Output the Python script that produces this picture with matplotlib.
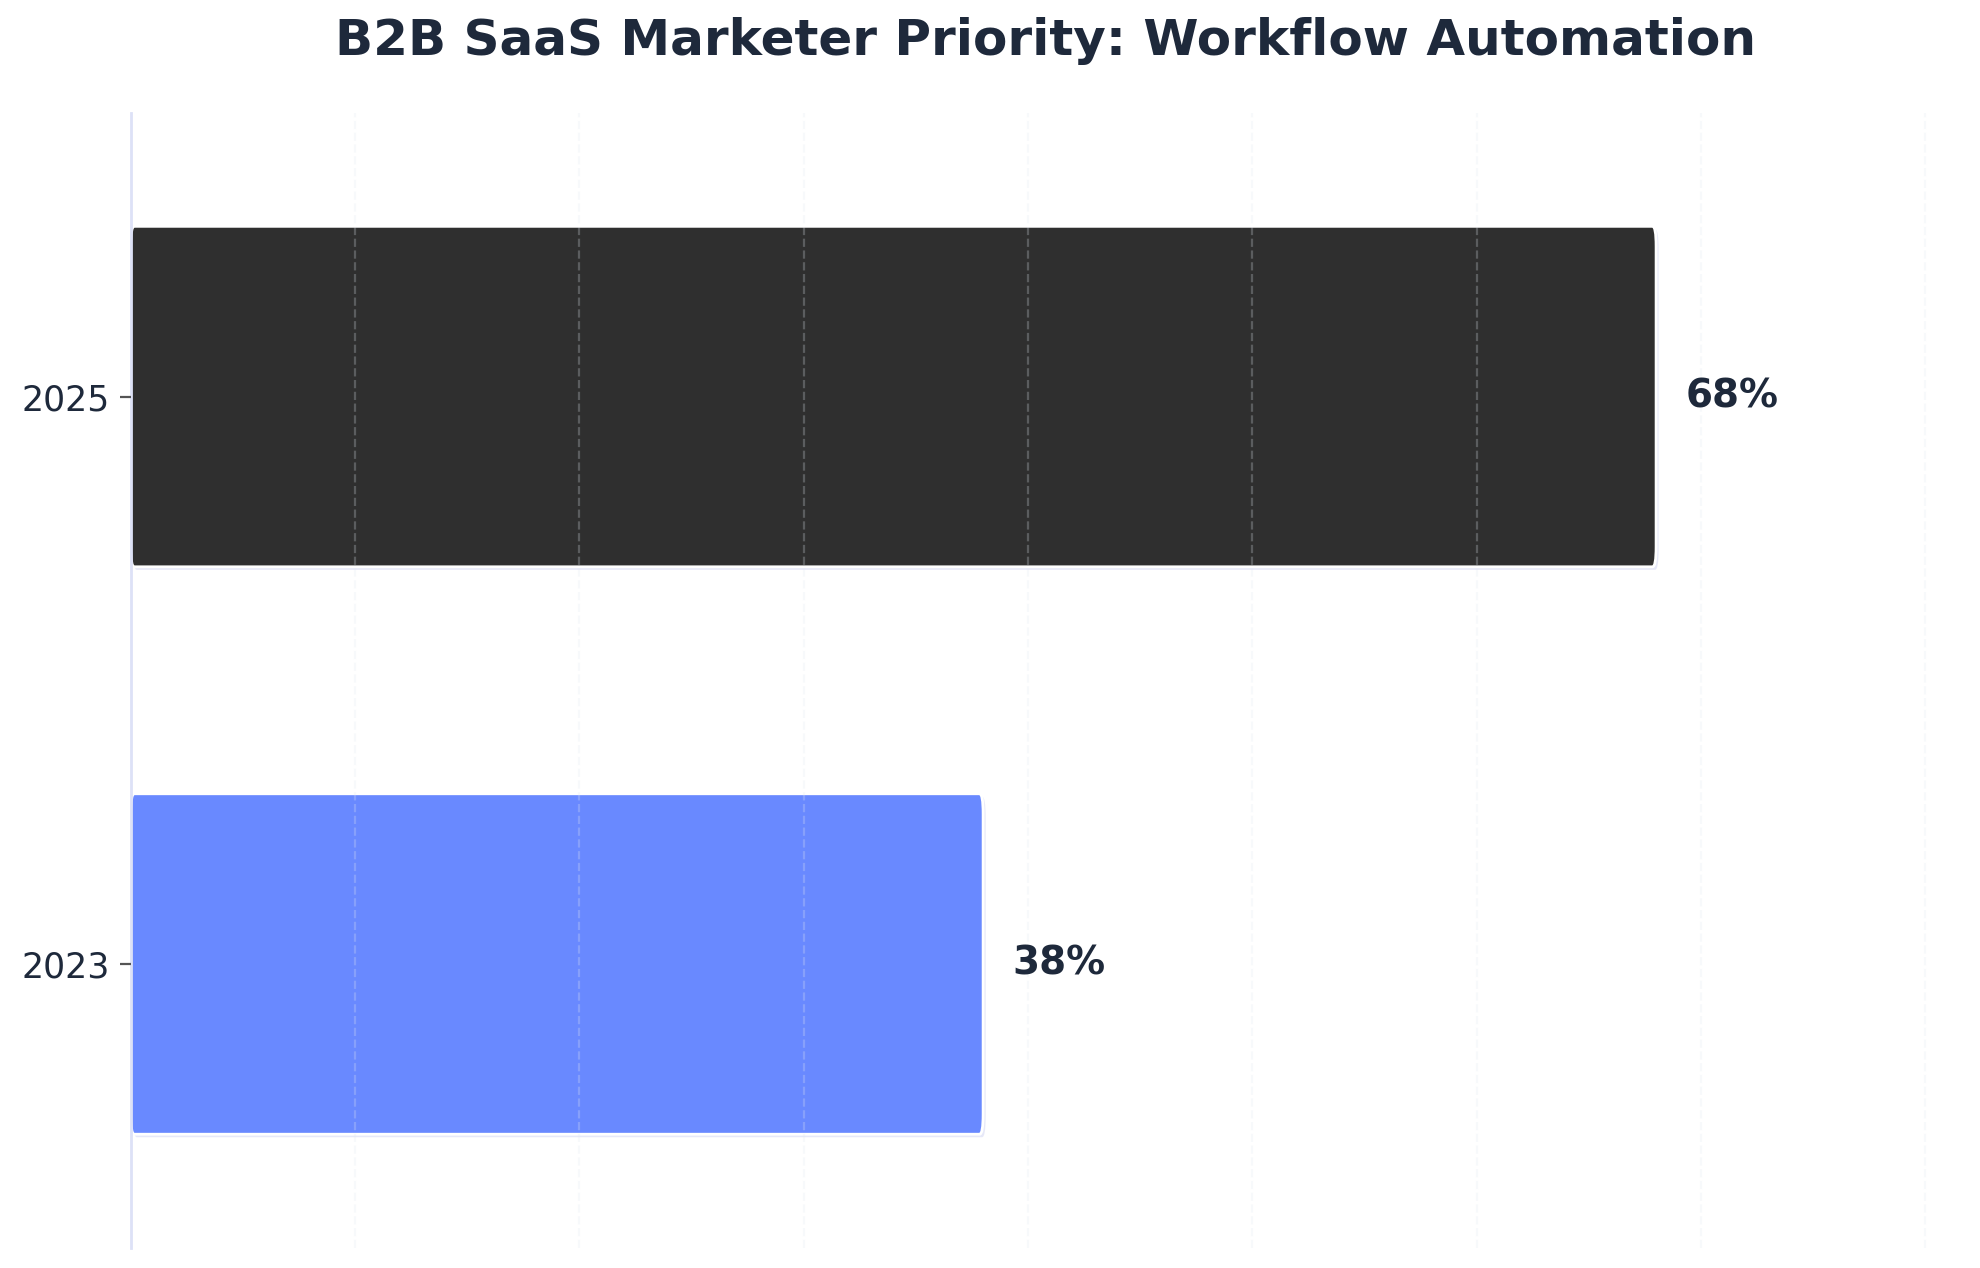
import matplotlib
matplotlib.use("Agg")
import matplotlib.pyplot as plt
from matplotlib.patches import FancyBboxPatch

categories = ["2023", "2025"]
values = [38, 68]
colors = ["#6989ff", "#2f2f2f"]
title = "B2B SaaS Marketer Priority: Workflow Automation"

plt.rcParams['font.family'] = ['DejaVu Sans']
fig = plt.figure(figsize=(9.9, 6.34), dpi=200)
ax = fig.add_axes([0.066, 0.016, 0.9245, 0.895])

ypos = list(range(len(categories)))
bars = ax.barh(ypos, values, height=0.6, color=colors)

xmax = max(values) * 1.2
ax.set_xlim(0, xmax)
ax.set_ylim(-0.5, 1.5)

fig.canvas.draw()
bb = ax.get_window_extent()
xpu = bb.width / xmax
ypu = bb.height / 2.0
rx = 3.5 / xpu
ry = 20.0 / ypu
aspect = ry / rx

for b, c in zip(bars, colors):
    x0, y0, w, h = b.get_x(), b.get_y(), b.get_width(), b.get_height()
    b.set_visible(False)
    dx = 2.5 / xpu
    dy = 3.0 / ypu
    sh = FancyBboxPatch((x0 + dx, y0 - dy), w, h,
                        boxstyle=f"round,pad=0,rounding_size={rx}",
                        mutation_aspect=aspect,
                        facecolor="#c9cdf0", edgecolor="none", alpha=0.45, zorder=1.5)
    ax.add_patch(sh)
    p = FancyBboxPatch((x0, y0), w, h,
                       boxstyle=f"round,pad=0,rounding_size={rx}",
                       mutation_aspect=aspect,
                       facecolor=c, edgecolor="white", linewidth=1.0, zorder=2)
    ax.add_patch(p)
    ax.text(x0 + w + 1.3, y0 + h / 2, f"{w:g}%", va="center", ha="left",
            fontsize=14, fontweight="bold", color="#1e293b", zorder=4)

ax.set_yticks(ypos)
ax.set_yticklabels(categories, fontsize=12.5, color="#1e293b")
ax.tick_params(axis="y", length=4, color="#555555", width=0.8)
ax.set_xticks(range(10, 81, 10))
ax.tick_params(axis="x", length=0, labelbottom=False)

ax.grid(axis="x", linestyle="--", color="#e2e8f0", alpha=0.25, linewidth=0.8, zorder=3)
ax.set_axisbelow(False)
for gl in ax.get_xgridlines():
    gl.set_zorder(3)

for s in ["top", "right", "bottom"]:
    ax.spines[s].set_visible(False)
ax.spines["left"].set_color("#dde1f7")
ax.spines["left"].set_linewidth(1.0)

ax.set_title(title, fontsize=18, fontweight="bold", color="#1e293b", pad=21)

fig.savefig("out.png", dpi=200, facecolor="white")
